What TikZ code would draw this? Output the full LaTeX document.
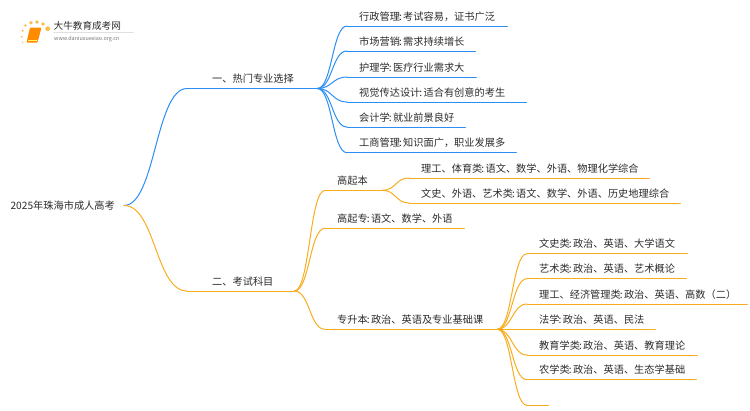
\documentclass[tikz,border=0pt]{standalone}
\usepackage{fontspec}
\setmainfont{Noto Sans CJK SC}
\usetikzlibrary{calc}

\definecolor{hotblue}{HTML}{2B8EF5}
\definecolor{examorange}{HTML}{F9AC1E}
\definecolor{inktext}{HTML}{2B2B2B}
\newcommand{\cln}{\kern-1pt:\kern-2pt\ }

\begin{document}
\begin{tikzpicture}[x=1pt,y=-1pt,line cap=round,
        leaf/.style={anchor=south west,text width=#1,align=left,inner xsep=0pt,inner ysep=2.6pt,
            text height=9pt,text depth=3pt,font=\fontsize{10.2}{12}\selectfont,text=inktext,
            execute at begin node={\hspace*{12pt}}},
        lvlone/.style={leaf=#1,execute at begin node={\hspace*{13pt}}},
        hotline/.style={color=hotblue,line width=1pt},
        examline/.style={color=examorange,line width=1pt},
        fork/.style={to path={.. controls ($(\tikztostart -| \tikztotarget)!.5!(\tikztostart)$)
            and ($(\tikztotarget -| \tikztostart)!.5!(\tikztotarget)$) .. (\tikztotarget)}}]

  \useasboundingbox (0,0) rectangle (750,410);

  % logo
  \fill[examorange!80!white] (25.5,25.5) circle (1.3) (31,22.7) circle (1.9) (37,22) circle (1.9)
        (43,24) circle (1.9) (47.7,28.7) circle (2.4) (22.7,30.7) circle (1.2)
        (21.7,36.7) circle (1) (22.7,42.3) circle (.8);
  \fill[rounded corners=1pt,fill=orange!90!yellow] (30,27.5) -- (41.5,27.5) -- (37.5,42.5) -- (26.5,42.5) -- cycle;
  \draw[yellow!60!white,line width=.6pt] (28.5,40) -- (37,40);
  \node[anchor=west,inner sep=0pt,font=\fontsize{9.6}{10}\selectfont,text=inktext] (logoname) at (53.5,26) {大牛教育成考网};
  \node[anchor=west,inner sep=0pt,font=\fontsize{5.4}{6}\selectfont,text=black!55] (logourl) at (54,39) {www.daniuxuexiao.org.cn};
  \draw[black!12,line width=.5pt] (logoname.south west) ++(0,2) -- ++(80,0);

  \node[anchor=east,inner xsep=9pt,inner ysep=2pt,font=\fontsize{10.2}{12}\selectfont,text=inktext] (root) at (124,205.5) {2025年珠海市成人高考};

  \node[lvlone=130pt] (hot) at (187,88.5) {一、热门专业选择};
  \node[leaf=160pt] (xz) at (347,26) {行政管理\cln 考试容易，证书广泛};
  \node[leaf=128pt] (sc) at (347,51) {市场营销\cln 需求持续增长};
  \node[leaf=129pt] (hl) at (347,77) {护理学\cln 医疗行业需求大};
  \node[leaf=179pt] (sj) at (347,102) {视觉传达设计\cln 适合有创意的考生};
  \node[leaf=118pt] (kj) at (347,127) {会计学\cln 就业前景良好};
  \node[leaf=169pt] (gs) at (347,152.7) {工商管理\cln 知识面广，职业发展多};

  \node[lvlone=107pt] (exam) at (187,291) {二、考试科目};
  \node[leaf=57pt] (gqb) at (325,190.3) {高起本};
  \node[leaf=240pt] (lg) at (409,178) {理工、体育类\cln 语文、数学、外语、物理化学综合};
  \node[leaf=271pt] (wsh) at (409,203) {文史、外语、艺术类\cln 语文、数学、外语、历史地理综合};
  \node[leaf=139pt] (gqz) at (325,228.3) {高起专\cln 语文、数学、外语};
  \node[leaf=172pt] (zsb) at (325,329.3) {专升本\cln 政治、英语及专业基础课};
  \node[leaf=160pt] (wsl) at (527,253.7) {文史类\cln 政治、英语、大学语文};
  \node[leaf=159pt] (ys) at (527,278.7) {艺术类\cln 政治、英语、艺术概论};
  \node[leaf=220pt] (lgjj) at (527,304) {理工、经济管理类\cln 政治、英语、高数（二）};
  \node[leaf=128pt] (fx) at (527,329.3) {法学\cln 政治、英语、民法};
  \node[leaf=170pt] (jy) at (527,355) {教育学类\cln 政治、英语、教育理论};
  \node[leaf=169pt] (nx) at (527,379.7) {农学类\cln 政治、英语、生态学基础};
  \node[leaf=21pt] (blank) at (527,405.3) {};

  \path[hotline] (root.east) edge[fork] (hot.south west)
        (hot.south west) edge (hot.south east)
        (hot.south east) edge[fork] (xz.south west)
        (hot.south east) edge[fork] (sc.south west)
        (hot.south east) edge[fork] (hl.south west)
        (hot.south east) edge[fork] (sj.south west)
        (hot.south east) edge[fork] (kj.south west)
        (hot.south east) edge[fork] (gs.south west)
        (xz.south west) edge (xz.south east)
        (sc.south west) edge (sc.south east)
        (hl.south west) edge (hl.south east)
        (sj.south west) edge (sj.south east)
        (kj.south west) edge (kj.south east)
        (gs.south west) edge (gs.south east);

  \path[examline] (root.east) edge[fork] (exam.south west)
        (exam.south west) edge (exam.south east)
        (exam.south east) edge[fork] (gqb.south west)
        (exam.south east) edge[fork] (gqz.south west)
        (exam.south east) edge[fork] (zsb.south west)
        (gqb.south west) edge (gqb.south east)
        (gqz.south west) edge (gqz.south east)
        (zsb.south west) edge (zsb.south east)
        (gqb.south east) edge[fork] (lg.south west)
        (gqb.south east) edge[fork] (wsh.south west)
        (lg.south west) edge (lg.south east)
        (wsh.south west) edge (wsh.south east)
        (zsb.south east) edge[fork] (wsl.south west)
        (zsb.south east) edge[fork] (ys.south west)
        (zsb.south east) edge[fork] (lgjj.south west)
        (zsb.south east) edge[fork] (fx.south west)
        (zsb.south east) edge[fork] (jy.south west)
        (zsb.south east) edge[fork] (nx.south west)
        (zsb.south east) edge[fork] (blank.south west)
        (wsl.south west) edge (wsl.south east)
        (ys.south west) edge (ys.south east)
        (lgjj.south west) edge (lgjj.south east)
        (fx.south west) edge (fx.south east)
        (jy.south west) edge (jy.south east)
        (nx.south west) edge (nx.south east)
        (blank.south west) edge (blank.south east);

\end{tikzpicture}
\end{document}
